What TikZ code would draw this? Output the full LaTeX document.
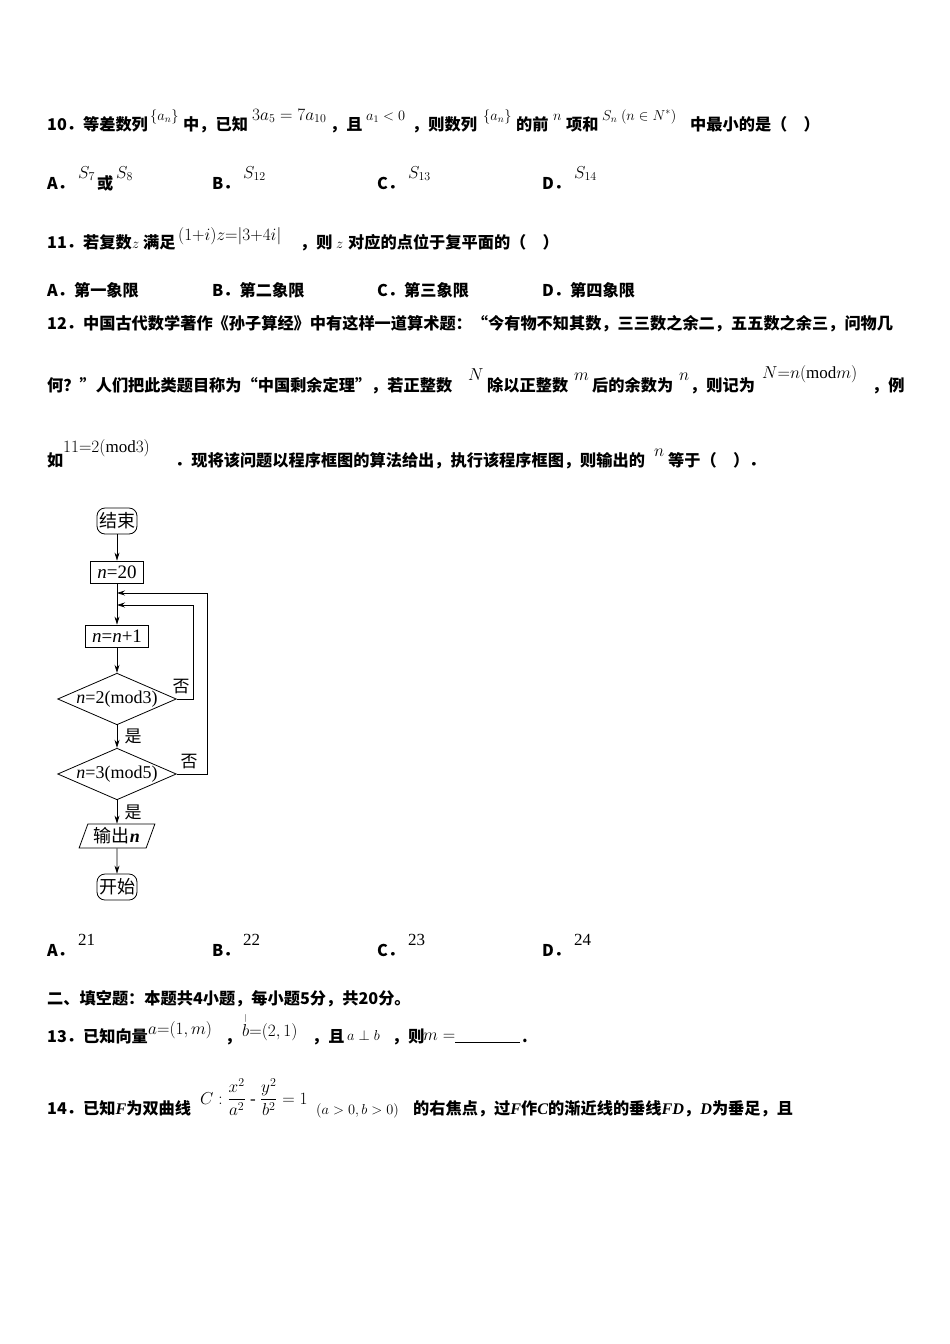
\documentclass[tikz,border=0pt]{standalone}
\usepackage{amsmath}
\usepackage{fontspec}
\setmainfont{Liberation Serif}
\newfontfamily\cjk{Noto Sans CJK SC}
\usetikzlibrary{shapes.geometric,arrows.meta}
\newcommand{\Q}{\cjk\bfseries\fontsize{16.2}{18}\selectfont}
\newcommand{\M}{\fontsize{17}{19}\selectfont}
\newcommand{\Ms}{\fontsize{14.5}{16}\selectfont}
\newcommand{\Fi}[1]{{\rmfamily\bfseries\itshape #1}}
\begin{document}
\begin{tikzpicture}[x=1pt,y=-1pt,
 t/.style={anchor=base west,inner sep=0pt,font=\Q},
 m/.style={anchor=base west,inner sep=0pt,font=\M},
 ms/.style={anchor=base west,inner sep=0pt,font=\Ms},
 fb/.style={draw,line width=0.8pt,inner sep=2pt,minimum height=22pt,font=\fontsize{19}{21}\selectfont},
 rb/.style={fb,rounded corners=8pt,minimum height=26pt,font=\cjk\fontsize{18}{20}\selectfont},
 dm/.style={draw,line width=0.8pt,diamond,aspect=2.3,inner sep=0pt,minimum width=117pt,minimum height=51pt,font=\fontsize{18}{20}\selectfont},
 ar/.style={-{Stealth[length=8pt,width=5pt]},line width=0.8pt},
 ln/.style={line width=0.8pt},
 lb/.style={font=\cjk\fontsize{17}{19}\selectfont}]
\useasboundingbox[fill=white] (0,0) rectangle (950,1344);
% Q10
\node[t] (a1) at (47,130) {10．等差数列};
\node[ms] (a2) at (150,120) {$\{a_n\}$};
\node[t] (a3) at (183,130) {中，已知};
\node[m] (a4) at (252,120) {$3a_5=7a_{10}$};
\node[t] (a5) at (330,130) {，且};
\node[ms] (a6) at (366,120) {$a_1<0$};
\node[t] (a7) at (412,130) {，则数列};
\node[ms] (a8) at (483,120) {$\{a_n\}$};
\node[t] (a9) at (516,130) {的前};
\node[ms] (a10) at (553,120) {$n$};
\node[t] (a11) at (566,130) {项和};
\node[ms] (a12) at (602,120) {$S_n\ (n\in N^*)$};
\node[t] (a13) at (690,130) {中最小的是（　）};
\node[t] (b1) at (47,189) {A．};
\node[m] (b2) at (78,178) {$S_7$};
\node[t] (b3) at (97,189) {或};
\node[m] (b4) at (116,178) {$S_8$};
\node[t] (b5) at (212,189) {B．};
\node[m] (b6) at (243,178) {$S_{12}$};
\node[t] (b7) at (377,189) {C．};
\node[m] (b8) at (408,178) {$S_{13}$};
\node[t] (b9) at (542,189) {D．};
\node[m] (b10) at (574,178) {$S_{14}$};
% Q11
\node[t] (c1) at (47,248) {11．若复数};
\node[ms] (c2) at (132,248) {$z$};
\node[t] (c3) at (143,248) {满足};
\node[m] (c4) at (178,240) {$(1{+}i)z{=}|3{+}4i|$};
\node[t] (c5) at (300,248) {，则};
\node[ms] (c6) at (336,248) {$z$};
\node[t] (c7) at (348,248) {对应的点位于复平面的（　）};
\node[t] (d1) at (47,296) {A．第一象限};
\node[t] (d2) at (212,296) {B．第二象限};
\node[t] (d3) at (377,296) {C．第三象限};
\node[t] (d4) at (542,296) {D．第四象限};
% Q12
\node[t] (e1) at (47,329) {12．中国古代数学著作《孙子算经》中有这样一道算术题：“今有物不知其数，三三数之余二，五五数之余三，问物几};
\node[t] (f1) at (47,391) {何？”人们把此类题目称为“中国剩余定理”，若正整数};
\node[m] (f2) at (468,380) {$N$};
\node[t] (f3) at (487,391) {除以正整数};
\node[m] (f4) at (574,380) {$m$};
\node[t] (f5) at (592,391) {后的余数为};
\node[m] (f6) at (679,380) {$n$};
\node[t] (f7) at (690,391) {，则记为};
\node[m] (f8) at (762,378) {$N{=}n(\mathrm{mod}m)$};
\node[t] (f9) at (872,391) {，例};
\node[t] (g1) at (47,466) {如};
\node[m] (g2) at (63,452) {$11{=}2(\mathrm{mod}3)$};
\node[t] (g3) at (175,466) {．现将该问题以程序框图的算法给出，执行该程序框图，则输出的};
\node[m] (g4) at (654,456) {$n$};
\node[t] (g5) at (668,466) {等于（　）．};
% flowchart
\node[rb] (s0) at (117,521) {结束};
\node[fb,minimum width=53pt] (s1) at (117,572) {\textit{n}=20};
\coordinate (j1) at (117,593);
\coordinate (j2) at (117,605);
\node[fb,minimum width=63pt] (s2) at (117,636) {\textit{n}=\textit{n}+1};
\node[dm] (s3) at (117,699) {\textit{n}=2(mod3)};
\node[dm] (s4) at (117,774) {\textit{n}=3(mod5)};
\node[draw,line width=0.8pt,trapezium,trapezium left angle=70,trapezium right angle=110,inner sep=2pt,minimum height=24pt,font=\cjk\fontsize{18}{20}\selectfont] (s5) at (117,836) {输出\Fi{n}};
\node[rb] (s6) at (117,887) {开始};
\draw[ar] (s0) -- (s1);
\draw[ln] (s1) -- (j1);
\draw[ar] (j1) -- (s2);
\draw[ar] (s2) -- (s3);
\draw[ar] (s3) -- node[right,lb,xshift=4pt]{是} (s4);
\draw[ar] (s4) -- node[right,lb,xshift=4pt]{是} (s5);
\draw[ar] (s5) -- (s6);
\draw[ar] (s3.east) -- (193,699) |- (j2);
\draw[ar] (s4.east) -- (207,774) |- (j1);
\node[lb] (n1) at (181,687) {否};
\node[lb] (n2) at (189,762) {否};
% answers
\node[t] (h1) at (47,956) {A．};
\node[m] (h2) at (78,945) {21};
\node[t] (h3) at (212,956) {B．};
\node[m] (h4) at (243,945) {22};
\node[t] (h5) at (377,956) {C．};
\node[m] (h6) at (408,945) {23};
\node[t] (h7) at (542,956) {D．};
\node[m] (h8) at (574,945) {24};
% section
\node[t] (i1) at (47,1004) {二、填空题：本题共4小题，每小题5分，共20分。};
\node[t] (j1t) at (47,1042) {13．已知向量};
\node[m] (j2t) at (148,1034) {$a{=}(1,m)$};
\node[t] (j3) at (225,1042) {，};
\node[m] (j4) at (242,1036) {$\overset{\scriptscriptstyle|}{b}{=}(2,1)$};
\node[t] (j5) at (312,1042) {，且};
\node[ms] (j6) at (347,1040) {$a\perp b$};
\node[t] (j7) at (392,1042) {，则};
\node[m] (j8) at (423,1040) {$m=$};
\draw[ln] (455,1042) -- (520,1042);
\node[t] (j9) at (522,1042) {.};
\node[t] (k1) at (47,1114) {14．已知\Fi{F}为双曲线};
\node[m] (k2) at (200,1104) {$C:\dfrac{x^2}{a^2}\text{ - }\dfrac{y^2}{b^2}=1$};
\node[ms] (k3) at (316,1114) {$(a>0,b>0)$};
\node[t] (k4) at (413,1114) {的右焦点，过\Fi{F}作\Fi{C}的渐近线的垂线\Fi{FD}，\Fi{D}为垂足，且};
\end{tikzpicture}
\end{document}
